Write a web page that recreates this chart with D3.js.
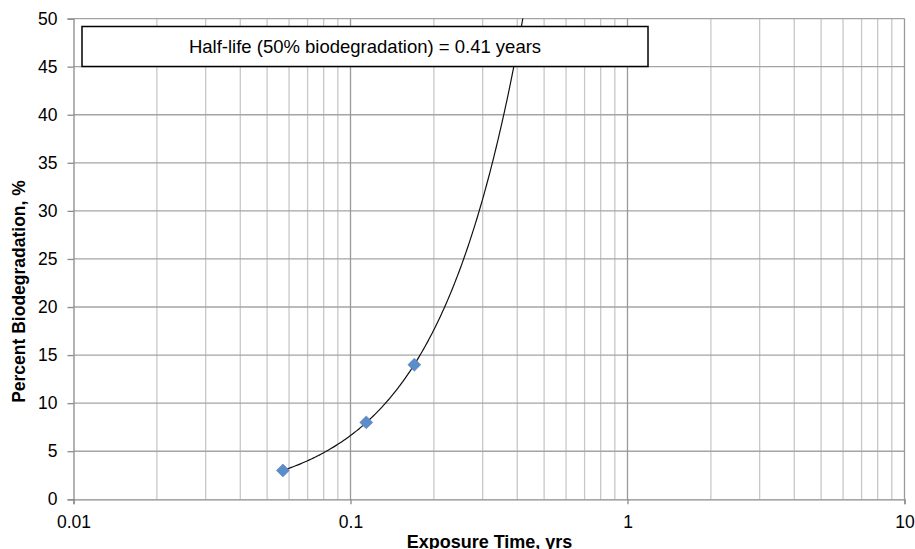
<!DOCTYPE html>
<html><head><meta charset="utf-8">
<script src="https://cdn.jsdelivr.net/npm/d3@7"></script>
<style>body{margin:0;background:#fff}svg{display:block}text{font-family:Arial,"Liberation Sans",sans-serif}</style>
</head><body><svg id="c" width="915" height="549"></svg>
<script>
const timeYrs = [0.057, 0.114, 0.170];
const percentBio = [3, 8, 14];
const yTicks = [0,5,10,15,20,25,30,35,40,45,50];
const xMajorTicks = [0.01, 0.1, 1, 10];
const xTickLabels = ["0.01","0.1","1","10"];
const annotation = "Half-life (50% biodegradation) = 0.41 years";
const xTitle = "Exposure Time, yrs";
const yTitle = "Percent Biodegradation, %";

const svg = d3.select("#c");
const L=73.5, R=904.5, T=18.6, B=499.3;
const x = d3.scaleLog().domain([0.01,10]).range([L,R]);
const y = d3.scaleLinear().domain([0,50]).range([B,T]);
const FF = "Arial, Liberation Sans, sans-serif";

// minor vertical gridlines
const minor = [];
[0.01,0.1,1].forEach(d=>{for(let k=2;k<=9;k++) minor.push(d*k);});
svg.append("g").selectAll("line").data(minor).join("line")
  .attr("x1",d=>x(d)).attr("x2",d=>x(d)).attr("y1",T).attr("y2",B)
  .attr("stroke","#c8c8c8").attr("stroke-width",1.3);
// horizontal gridlines
svg.append("g").selectAll("line").data(yTicks.filter(d=>d>0)).join("line")
  .attr("x1",L).attr("x2",R).attr("y1",d=>y(d)).attr("y2",d=>y(d))
  .attr("stroke","#a4a4a4").attr("stroke-width",1.3);
// major vertical gridlines
svg.append("g").selectAll("line").data(xMajorTicks.slice(1)).join("line")
  .attr("x1",d=>x(d)).attr("x2",d=>x(d)).attr("y1",T).attr("y2",B)
  .attr("stroke","#999").attr("stroke-width",1.3);

// axes
const yAxis = d3.axisLeft(y).tickValues(yTicks).tickSize(6).tickPadding(10);
const gy = svg.append("g").attr("transform",`translate(${L},0)`).call(yAxis);
gy.select(".domain").attr("stroke","#8a8a8a").attr("stroke-width",1.3);
gy.selectAll(".tick line").attr("stroke","#8a8a8a").attr("stroke-width",1.3);
gy.selectAll("text").attr("font-size",17.5).attr("fill","#000").attr("font-family",FF);

const xAxis = d3.axisBottom(x).tickValues(xMajorTicks).tickFormat((d,i)=>xTickLabels[i]).tickSize(5).tickPadding(11);
const gx = svg.append("g").attr("transform",`translate(0,${B})`).call(xAxis);
gx.select(".domain").attr("stroke","#8a8a8a").attr("stroke-width",1.3);
gx.selectAll(".tick line").attr("stroke","#8a8a8a").attr("stroke-width",1.3);
gx.selectAll("text").attr("font-size",17.5).attr("fill","#000").attr("font-family",FF).attr("dy","0.72em");

// power trendline fitted from the data (log-log least squares)
const lx = timeYrs.map(Math.log), ly = percentBio.map(Math.log);
const mx = d3.mean(lx), my = d3.mean(ly);
const b = d3.sum(lx.map((v,i)=>(v-mx)*(ly[i]-my)))/d3.sum(lx.map(v=>(v-mx)*(v-mx)));
const a = Math.exp(my - b*mx);
const tEnd = Math.pow(50/a,1/b)*1.02;
const curve = d3.range(0,201).map(i=>{const t=timeYrs[0]*Math.pow(tEnd/timeYrs[0],i/200);return [t,a*Math.pow(t,b)];});
svg.append("clipPath").attr("id","clip").append("rect").attr("x",L).attr("y",T).attr("width",R-L).attr("height",B-T);
svg.append("path").attr("clip-path","url(#clip)").datum(curve)
  .attr("d",d3.line().x(d=>x(d[0])).y(d=>y(d[1])))
  .attr("fill","none").attr("stroke","#111").attr("stroke-width",1.2);

// markers
svg.append("g").selectAll("path").data(timeYrs).join("path")
  .attr("d",d3.symbol(d3.symbolSquare,84))
  .attr("transform",(d,i)=>`translate(${x(d)},${y(percentBio[i])}) rotate(45)`)
  .attr("fill","#5b8dcb").attr("stroke","#4a7cba").attr("stroke-width",0.5);

// annotation box
svg.append("rect").attr("x",82).attr("y",26.5).attr("width",566).attr("height",40)
  .attr("fill","#fff").attr("stroke","#000").attr("stroke-width",1.5);
svg.append("text").attr("x",365).attr("y",53).attr("text-anchor","middle")
  .attr("font-size",18.5).attr("fill","#000").text(annotation);

// titles
svg.append("text").attr("x",489.5).attr("y",548).attr("text-anchor","middle")
  .attr("font-size",18).attr("font-weight","bold").attr("fill","#000").text(xTitle);
svg.append("text").attr("transform","translate(24.5,291.5) rotate(-90)").attr("text-anchor","middle")
  .attr("font-size",17.5).attr("font-weight","bold").attr("fill","#000").text(yTitle);
</script></body></html>
